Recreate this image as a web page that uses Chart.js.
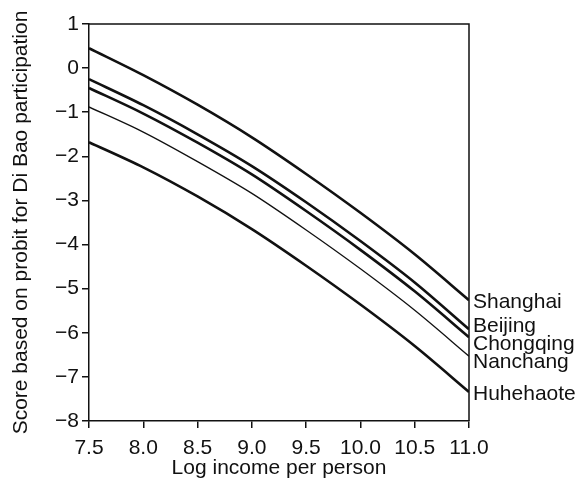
<!DOCTYPE html>
<html>
<head>
<meta charset="utf-8">
<script src="https://cdn.jsdelivr.net/npm/chart.js@4.4.1/dist/chart.umd.min.js"></script>
<style>
  html, body { margin: 0; padding: 0; background: #fff; }
  #wrap { width: 578px; height: 483px; }
</style>
</head>
<body>
<div id="wrap"><canvas id="c"></canvas></div>
<script>
// Log income per person (x) and probit score per city
const INCOME = [7.5, 8.0, 8.5, 9.0, 9.5, 10.0, 10.5, 11.0];
const CITIES = ["Shanghai", "Beijing", "Chongqing", "Nanchang", "Huhehaote"];
const SHANGHAI  = [0.45, -0.16, -0.83, -1.57, -2.40, -3.28, -4.22, -5.26];
const BEIJING   = [-0.25, -0.84, -1.50, -2.22, -3.04, -3.92, -4.86, -5.92];
const CHONGQING = [-0.45, -1.03, -1.69, -2.41, -3.24, -4.12, -5.06, -6.10];
const NANCHANG  = [-0.88, -1.45, -2.12, -2.84, -3.67, -4.55, -5.49, -6.53];
const HUHEHAOTE = [-1.68, -2.25, -2.91, -3.65, -4.48, -5.36, -6.30, -7.34];
const SERIES = [SHANGHAI, BEIJING, CHONGQING, NANCHANG, HUHEHAOTE];
const WIDTHS = [2.6, 2.6, 2.6, 1.3, 2.6];

const INK = "#111";
const FONT = "'Liberation Sans', Arial, sans-serif";

// ramka (yuqori va o'ng chiziq) + chiziq oxiridagi shahar nomlari
const framePlugin = {
  id: "frame",
  afterDraw(chart) {
    const { ctx, chartArea: a, scales } = chart;
    ctx.save();
    ctx.strokeStyle = INK;
    ctx.lineWidth = 1.5;
    ctx.beginPath();
    ctx.moveTo(a.left, a.top);
    ctx.lineTo(a.right, a.top);
    ctx.lineTo(a.right, a.bottom);
    ctx.stroke();

    // label y — chiziq oxiri, ustma-ust tushmasligi uchun surilgan
    const ys = SERIES.map((s) => scales.y.getPixelForValue(s[s.length - 1]) + 2);
    const GAP = 18;
    for (let i = 1; i < ys.length; i++) {
      if (ys[i] - ys[i - 1] < GAP) {
        const mid = (ys[i] + ys[i - 1]) / 2;
        if (i === 1 || ys[i - 1] - ys[i - 2] >= GAP + 4) {
          ys[i - 1] = mid - GAP / 2;
          ys[i] = mid + GAP / 2;
        } else {
          ys[i] = ys[i - 1] + GAP;
        }
      }
    }
    ctx.fillStyle = INK;
    ctx.font = `21px ${FONT}`;
    ctx.textAlign = "left";
    ctx.textBaseline = "middle";
    CITIES.forEach((name, i) => ctx.fillText(name, a.right + 4, ys[i]));
    ctx.restore();
  },
};

new Chart(document.getElementById("c"), {
  type: "line",
  data: {
    datasets: CITIES.map((name, i) => ({
      label: name,
      data: INCOME.map((x, j) => ({ x, y: SERIES[i][j] })),
      borderColor: INK,
      borderWidth: WIDTHS[i],
      pointRadius: 0,
      tension: 0.3,
      fill: false,
    })),
  },
  options: {
    responsive: true,
    maintainAspectRatio: false,
    animation: false,
    events: [],
    layout: { padding: { top: 24, right: 109, bottom: 0, left: 0 } },
    plugins: { legend: { display: false }, tooltip: { enabled: false } },
    scales: {
      x: {
        type: "linear",
        min: 7.5,
        max: 11,
        afterFit: (s) => { s.height = 62; },
        grid: { display: true, drawOnChartArea: false, drawTicks: true, tickLength: 7, color: INK, lineWidth: 1.5 },
        border: { display: true, color: INK, width: 1.5 },
        ticks: {
          stepSize: 0.5,
          color: INK,
          padding: 8,
          maxRotation: 0,
          font: { family: FONT, size: 21 },
          callback: (v) => Number(v).toFixed(1),
        },
        title: {
          display: true,
          text: "Log income per person",
          color: INK,
          font: { family: FONT, size: 21 },
          padding: { top: 0, bottom: 2 },
        },
      },
      y: {
        min: -8,
        max: 1,
        afterFit: (s) => { s.width = 89; },
        grid: { display: true, drawOnChartArea: false, drawTicks: true, tickLength: 7, color: INK, lineWidth: 1.5 },
        border: { display: true, color: INK, width: 1.5 },
        ticks: {
          stepSize: 1,
          color: INK,
          padding: 3,
          font: { family: FONT, size: 21 },
          callback: (v) => (v < 0 ? "\u2212" + Math.abs(v) : String(v)),
        },
        title: {
          display: true,
          text: "Score based on probit for Di Bao participation",
          color: INK,
          font: { family: FONT, size: 21 },
          padding: { top: 9, bottom: 0 },
        },
      },
    },
  },
  plugins: [framePlugin],
});
</script>
</body>
</html>
